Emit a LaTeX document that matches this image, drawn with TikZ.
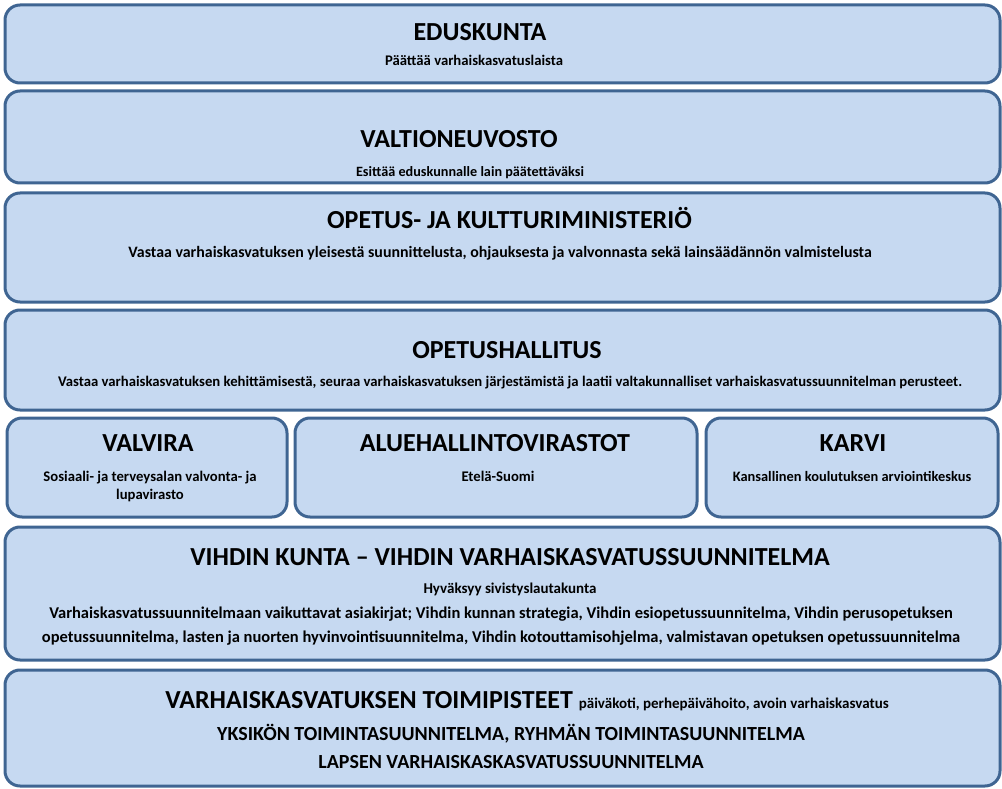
\documentclass[tikz,border=0pt]{standalone}
\usepackage{fontspec}
\setmainfont{Carlito}
\definecolor{boxfill}{HTML}{C6D9F1}
\definecolor{boxline}{HTML}{3F6592}
\begin{document}
\begin{tikzpicture}[x=1pt,y=-1pt,
  box/.style={draw=boxline, line width=3pt, fill=boxfill, rounded corners=15pt},
  ttl/.style={font=\bfseries\fontsize{26}{30}\selectfont, inner sep=0pt, anchor=base},
  sub/.style={font=\bfseries\fontsize{14.7}{18}\selectfont, inner sep=0pt, anchor=base, align=center},
  body/.style={font=\bfseries\fontsize{16.5}{24}\selectfont, inner sep=0pt, anchor=base, align=center},
  big/.style={font=\bfseries\fontsize{20}{24}\selectfont, inner sep=0pt, anchor=base}]
\useasboundingbox (0,0) rectangle (1002,789);
\draw[box] (5,5) rectangle (1000,83);
\node[ttl] (t1) at (480,40.5) {EDUSKUNTA};
\node[sub] (s1) at (474,66) {Päättää varhaiskasvatuslaista};
\draw[box] (5,91) rectangle (1000,183);
\node[ttl] (t2) at (459,148) {VALTIONEUVOSTO};
\node[sub, font=\bfseries\fontsize{14.2}{18}\selectfont] (s2) at (470,176.5) {Esittää eduskunnalle lain päätettäväksi};
\draw[box] (5,193) rectangle (1000,302);
\node[ttl] (t3) at (509.5,228) {OPETUS- JA KULTTURIMINISTERIÖ};
\node[sub, font=\bfseries\fontsize{15.9}{18}\selectfont] (s3) at (500,257) {Vastaa varhaiskasvatuksen yleisestä suunnittelusta, ohjauksesta ja valvonnasta sekä lainsäädännön valmistelusta};
\draw[box] (5,310) rectangle (1000,410);
\node[ttl] (t4) at (507,358) {OPETUSHALLITUS};
\node[sub] (s4) at (510,386) {Vastaa varhaiskasvatuksen kehittämisestä, seuraa varhaiskasvatuksen järjestämistä ja laatii valtakunnalliset varhaiskasvatussuunnitelman perusteet.};
\draw[box] (7,418) rectangle (287,517);
\node[ttl] (t5) at (148,451) {VALVIRA};
\node[sub] (s5) at (150,499) {Sosiaali- ja terveysalan valvonta- ja\\lupavirasto};
\draw[box] (295,418) rectangle (697,517);
\node[ttl] (t6) at (495,451) {ALUEHALLINTOVIRASTOT};
\node[sub] (s6) at (498,481) {Etelä-Suomi};
\draw[box] (706,418) rectangle (998,517);
\node[ttl] (t7) at (853,451) {KARVI};
\node[sub, font=\bfseries\fontsize{14.4}{18}\selectfont] (s7) at (852,481) {Kansallinen koulutuksen arviointikeskus};
\draw[box] (5,527) rectangle (1000,660);
\node[ttl] (t8) at (510,565) {VIHDIN KUNTA – VIHDIN VARHAISKASVATUSSUUNNITELMA};
\node[sub, font=\bfseries\fontsize{15}{18}\selectfont] (s8) at (510,593) {Hyväksyy sivistyslautakunta};
\node[body] (b8) at (501,642) {Varhaiskasvatussuunnitelmaan vaikuttavat asiakirjat; Vihdin kunnan strategia, Vihdin esiopetussuunnitelma, Vihdin perusopetuksen\\opetussuunnitelma, lasten ja nuorten hyvinvointisuunnitelma, Vihdin kotouttamisohjelma, valmistavan opetuksen opetussuunnitelma};
\draw[box] (5,670) rectangle (1000,786);
\node[ttl] (t9) at (527,708) {VARHAISKASVATUKSEN TOIMIPISTEET {\fontsize{15}{18}\selectfont päiväkoti, perhepäivähoito, avoin varhaiskasvatus}};
\node[big] (b9) at (511,740) {YKSIKÖN TOIMINTASUUNNITELMA, RYHMÄN TOIMINTASUUNNITELMA};
\node[big] (c9) at (511,768) {LAPSEN VARHAISKASKASVATUSSUUNNITELMA};
\end{tikzpicture}
\end{document}
